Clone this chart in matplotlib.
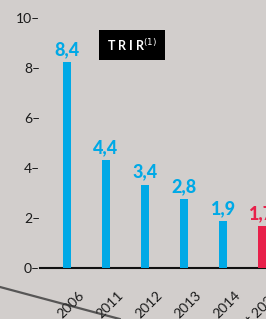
import matplotlib

matplotlib.use('Agg')
import matplotlib.pyplot as plt
import matplotlib.transforms as mtrans

# donnees TRIR
years = ['2006', '2011', '2012', '2013', '2014', 'Engagement 2020']
values = [8.4, 4.4, 3.4, 2.8, 1.9, 1.7]
labels = ['8,4', '4,4', '3,4', '2,8', '1,9', '1,7']
colors = ['#00a9e6'] * 5 + ['#e8204a']
yticks = [0, 2, 4, 6, 8, 10]

bg = '#d2cecc'
plt.rcParams['font.family'] = ['Lato', 'DejaVu Sans']

fig = plt.figure(figsize=(2.66, 3.19), dpi=100, facecolor=bg)
ax = fig.add_axes([40 / 266, 51 / 319, 1 - 40 / 266, 250 / 319])
ax.set_facecolor(bg)

x = list(range(len(years)))
ax.bar(x, [v * 0.98 for v in values], width=0.2, color=colors, zorder=3)

for xi, v, lab, c in zip(x, values, labels, colors):
    ax.annotate(lab, (xi, v * 0.98), xytext=(0, 3), textcoords='offset points',
                ha='center', va='bottom', color=c, fontsize=13,
                fontweight='black', annotation_clip=False)

ax.set_xlim(-0.69, 5.1)
ax.set_ylim(0, 10)
ax.set_yticks(yticks)
ax.set_yticklabels([str(t) + '\u2013' for t in yticks], fontsize=10, color='#1a1a1a')
ax.tick_params(axis='y', length=0, pad=0)
ax.set_xticks(x)
ax.set_xticklabels(years, rotation=45, ha='right', va='center', rotation_mode='anchor',
                   fontsize=10, color='#1a1a1a')
ax.tick_params(axis='x', length=0, pad=18)
shift = mtrans.ScaledTranslation(15 / 100, 0, fig.dpi_scale_trans)
for t in ax.get_xticklabels():
    t.set_transform(t.get_transform() + shift)

for s in ['top', 'right', 'left']:
    ax.spines[s].set_visible(False)
ax.spines['bottom'].set_color('#111111')
ax.spines['bottom'].set_linewidth(1.5)

# cartouche
fig.text(132 / 266, 1 - 45 / 319, 'T R I R$^{(1)}$', ha='center', va='center',
         color='white', fontsize=9, fontweight='bold',
         bbox=dict(boxstyle='square,pad=0.6', facecolor='black', edgecolor='none'))

# trait decoratif en bas a gauche
fig.add_artist(plt.Line2D([0, 0.45], [1 - 287 / 319, 0], color='#2e2e2e', lw=1.6, alpha=0.75))

plt.savefig('out.png', dpi=100, facecolor=bg)
plt.close()
